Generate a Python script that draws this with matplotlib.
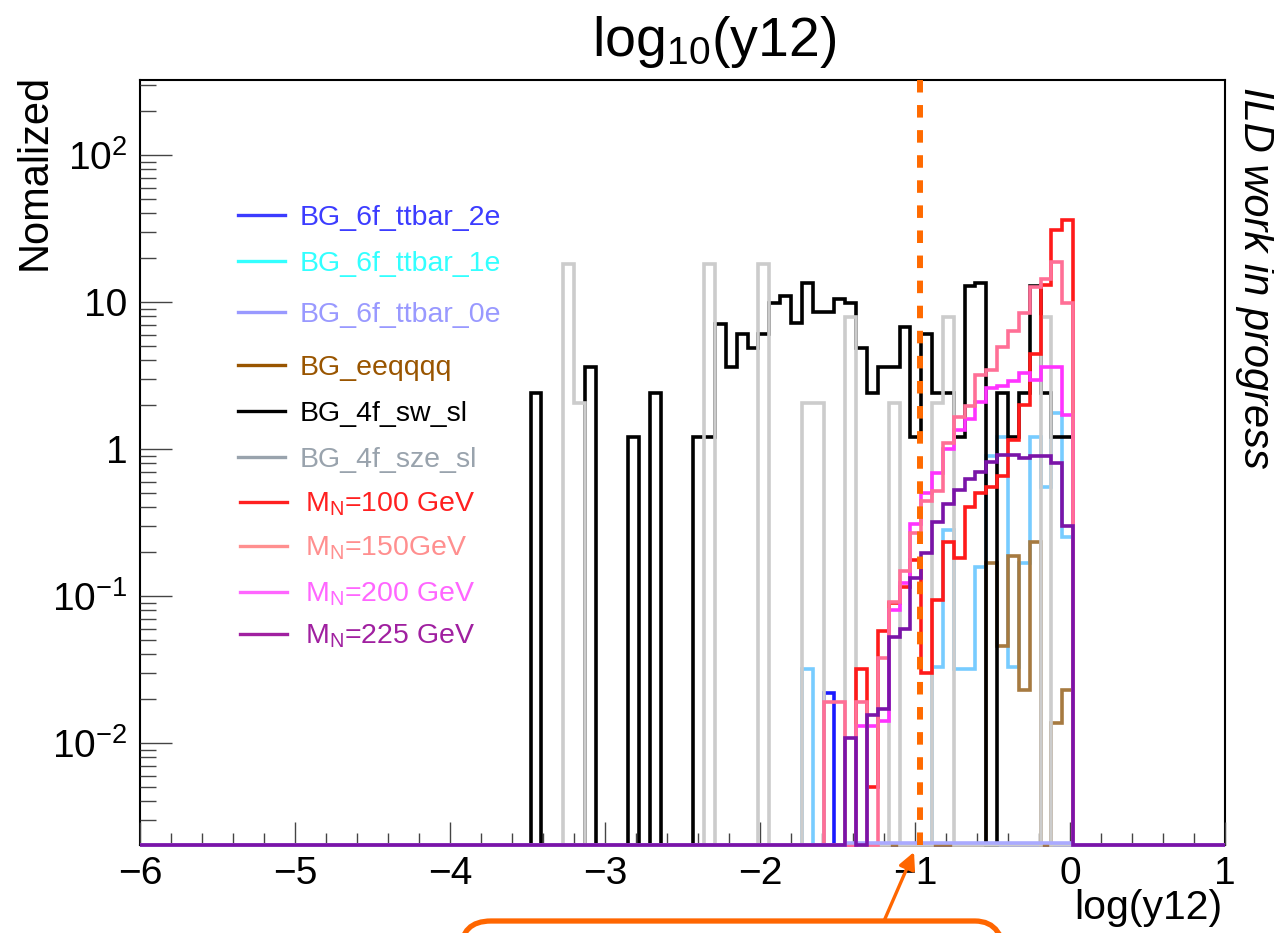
import numpy as np
import matplotlib
matplotlib.use("Agg")
import matplotlib.pyplot as plt
from matplotlib.lines import Line2D
from matplotlib.patches import FancyBboxPatch, FancyArrowPatch
from matplotlib.transforms import IdentityTransform
from matplotlib.ticker import FixedLocator, LogLocator, NullFormatter, MultipleLocator

plt.rcParams['font.family'] = ['Liberation Sans', 'DejaVu Sans']
plt.rcParams['mathtext.fontset'] = 'custom'
plt.rcParams['mathtext.rm'] = 'Liberation Sans'
plt.rcParams['mathtext.it'] = 'Liberation Sans:italic'
plt.rcParams['mathtext.bf'] = 'Liberation Sans:bold'

# ---------------- data ----------------
n_bins = 100
x_lo, x_hi = -6.0, 1.0
first_bin = 36          # values below are bins 36 ... 85  (log(y12) from -3.48 to 0.02)
cut_value = -0.97

bg_6f_ttbar_2e = [0]*27 + [0.022] + [0]*22
bg_6f_ttbar_1e = ([0]*25 + [0.032, 0, 0, 0, 0] + [0]*5 +
                  [0, 0, 0.033, 0.28, 0.032] + [0.032, 0.158, 0.9, 1.2, 0.033] +
                  [0.168, 1.2, 0.55, 1.76, 0.25])
bg_6f_ttbar_0e = [0]*29 + [0.0021]*21
bg_eeqqqq = ([0]*40 + [0, 0, 0.168, 0.046, 0.187] + [0.023, 0.234, 0, 0.0137, 0.023])
bg_4f_sw_sl = [2.4, 0, 0, 0, 0, 3.6, 0, 0, 0, 1.2,
               0, 2.4, 0, 0, 0, 1.2, 1.2, 7.1, 3.6, 6.1,
               4.9, 6.1, 9.8, 11, 7.2, 13.5, 8.6, 8.6, 10.5, 9.9,
               4.9, 2.4, 3.6, 3.6, 6.8, 1.2, 6.1, 2.4, 2.4, 1.2,
               12.8, 13.5, 0, 2.4, 1.2, 2.4, 12.8, 2.4, 1.2, 1.2]
bg_4f_sze_sl = [0, 0, 0, 18, 2.05, 0, 0, 0, 0, 0,
                0, 0, 0, 0, 0, 0, 18, 0, 0, 0,
                0, 18, 0, 0, 0, 2.05, 2.05, 0, 0, 7.9,
                0, 0, 0, 2.05, 0, 0, 0, 2.05, 7.9, 0,
                0, 0, 0, 0, 0, 0, 0, 7.9, 0, 0]
mn_100 = ([0]*30 + [0.032, 0.005, 0.058, 0.09, 0.116] + [0.176, 0.03, 0.094, 0.234, 0.18] +
          [0.4, 0.5, 0.55, 0.65, 1.15] + [2.0, 4.4, 13, 31, 36])
mn_150 = ([0]*25 + [0, 0, 0.019, 0.019, 0] + [0.019, 0, 0.038, 0.091, 0.147] +
          [0.27, 0.44, 0.52, 1.1, 1.64] + [1.97, 3.2, 3.45, 4.96, 6.3] +
          [8.4, 12.7, 14.3, 18.8, 9.9])
mn_200 = ([0]*30 + [0.013, 0.013, 0.014, 0.08, 0.122] + [0.31, 0.5, 0.69, 1.0, 1.35] +
          [1.6, 2.1, 2.6, 2.7, 2.9] + [3.3, 2.95, 3.6, 3.6, 1.7])
mn_225 = ([0]*25 + [0, 0, 0, 0, 0.0108] + [0, 0.0155, 0.017, 0.053, 0.06] +
          [0.132, 0.196, 0.32, 0.42, 0.53] + [0.62, 0.7, 0.82, 0.91, 0.91] +
          [0.87, 0.89, 0.89, 0.8, 0.3])

labels = ['BG_6f_ttbar_2e', 'BG_6f_ttbar_1e', 'BG_6f_ttbar_0e', 'BG_eeqqqq',
          'BG_4f_sw_sl', 'BG_4f_sze_sl', r'M$_{\mathrm{N}}$=100 GeV',
          r'M$_{\mathrm{N}}$=150GeV', r'M$_{\mathrm{N}}$=200 GeV', r'M$_{\mathrm{N}}$=225 GeV']
series = [bg_6f_ttbar_2e, bg_6f_ttbar_1e, bg_6f_ttbar_0e, bg_eeqqqq, bg_4f_sw_sl,
          bg_4f_sze_sl, mn_100, mn_150, mn_200, mn_225]
line_colors = ['#1a1aff', '#77ccff', '#aaaaff', '#a67a40', '#000000', '#cccccc',
               '#ff1a1a', '#ff6f96', '#ff33ff', '#7a14a8']
legend_colors = ['#3c3cff', '#33ffff', '#9999ff', '#995500', '#000000', '#99a3ad',
                 '#ff2020', '#ff8f8f', '#ff66ff', '#a020a0']
draw_order = [1, 0, 3, 4, 5, 6, 8, 7, 2, 9]

xtick_vals = [-6, -5, -4, -3, -2, -1, 0, 1]
xtick_labels = ['\u22126', '\u22125', '\u22124', '\u22123', '\u22122', '\u22121', '0', '1']
ytick_vals = [0.01, 0.1, 1, 10, 100]
ytick_labels = [r'$10^{-2}$', r'$10^{-1}$', '1', '10', r'$10^{2}$']

y_bottom, y_top = 10**-2.694, 10**2.51

# ---------------- figure ----------------
W, H = 1274, 933
fig = plt.figure(figsize=(W/100, H/100), dpi=100)
ax = fig.add_axes([140/W, 1-845/H, (1225-140)/W, (845-80)/H])
ax.set_yscale('log')
ax.set_xlim(x_lo, x_hi)
ax.set_ylim(y_bottom, y_top)

edges = np.linspace(x_lo, x_hi, n_bins + 1)
for z, idx in enumerate(draw_order):
    full = np.zeros(n_bins)
    vals = np.asarray(series[idx], dtype=float)
    full[first_bin:first_bin + len(vals)] = vals
    full[full <= 0] = y_bottom
    ax.stairs(full, edges, baseline=None, color=line_colors[idx], lw=2.6,
              zorder=2 + z * 0.1, clip_on=False)

ax.axvline(cut_value, color='#ff6a00', lw=4.3, ls=(0, (2.1, 2.1)), zorder=4)

for s in ax.spines.values():
    s.set_linewidth(1.5)
    s.set_zorder(1.5)

ax.xaxis.set_major_locator(FixedLocator(xtick_vals))
ax.set_xticklabels(xtick_labels)
ax.xaxis.set_minor_locator(MultipleLocator(0.2))
ax.yaxis.set_major_locator(FixedLocator(ytick_vals))
ax.set_yticklabels(ytick_labels)
ax.yaxis.set_minor_locator(LogLocator(base=10, subs=np.arange(2, 10)))
ax.yaxis.set_minor_formatter(NullFormatter())
ax.tick_params(which='both', direction='in', top=False, right=False,
               color='#444444', width=1.0, labelsize=28)
ax.tick_params(axis='x', which='major', length=16.5, pad=8)
ax.tick_params(axis='x', which='minor', length=8.3)
ax.tick_params(axis='y', which='major', length=23, pad=9)
ax.tick_params(axis='y', which='minor', length=11.5)

# titles / labels
fig.text(714/W, 1-42/H, r'log$_{10}$(y12)', fontsize=40, ha='center', va='center')
fig.text(35/W, 1-74/H, 'Nomalized', fontsize=30, rotation=90, ha='center', va='top')
fig.text(1222/W, 1-908/H, 'log(y12)', fontsize=29.5, ha='right', va='center')
fig.text(1255/W, 1-87/H, 'ILD work in progress', fontsize=30, rotation=270,
         ha='center', va='top', style='italic')

# legend (manual, no frame)
leg_y = [215, 261, 312, 365, 411, 457, 502, 546, 592, 634]
for i in range(len(labels)):
    y = leg_y[i]
    x0, x1, tx = (238, 285, 300) if i < 6 else (240, 287, 305)
    fig.add_artist(Line2D([x0/W, x1/W], [1-y/H, 1-y/H], color=legend_colors[i], lw=2.4))
    fig.text(tx/W, 1-(y+10)/H, labels[i], color=legend_colors[i], fontsize=20.5,
             ha='left', va='baseline')

# annotation box + arrow (pixel coordinates)
box = FancyBboxPatch((461, -60), 544, 933-921+60, boxstyle='round,pad=0,rounding_size=30',
                     fill=False, ec='#ff6600', lw=3.8, transform=IdentityTransform())
fig.add_artist(box)
arr = FancyArrowPatch(posA=(884, 933-921), posB=(914, 933-852),
                      arrowstyle='-|>,head_length=10,head_width=5', color='#ff6600',
                      lw=2.4, shrinkA=0, shrinkB=0, transform=IdentityTransform())
fig.add_artist(arr)

fig.savefig('out.png', dpi=100)
